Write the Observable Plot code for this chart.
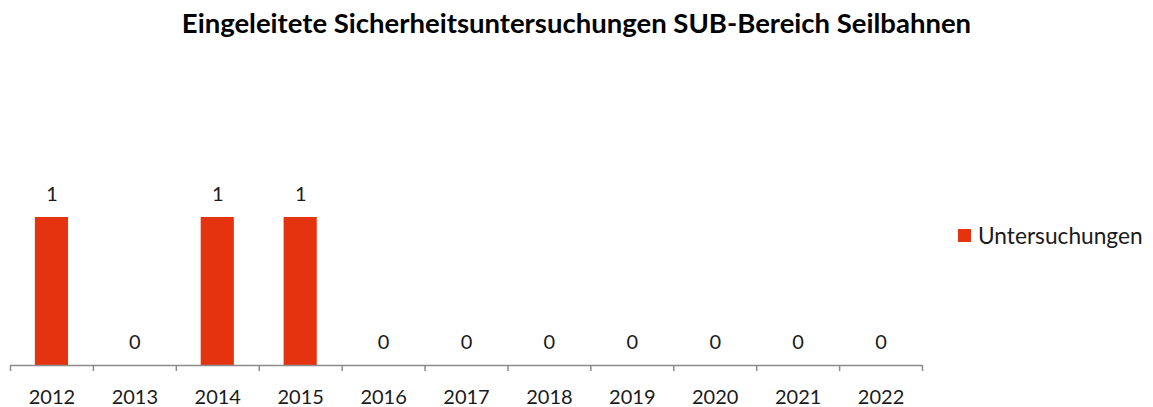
<!DOCTYPE html>
<html>
<head>
<meta charset="utf-8">
<script src="https://cdn.jsdelivr.net/npm/d3@7"></script>
<script src="https://cdn.jsdelivr.net/npm/@observablehq/plot@0.6"></script>
<style>
  html, body { margin: 0; padding: 0; background: #fff; }
  #wrap { position: relative; width: 1153px; height: 407px; font-family: Lato, "Open Sans", sans-serif; }
  #title { height: 45px; line-height: 45px; text-align: center; font-weight: bold; font-size: 27.5px; color: #000; padding-left: 0px; }
  #legend { position: absolute; left: 958px; top: 222px; font-size: 22.7px; color: #1a1a1a; display: flex; align-items: center; }
  #legend .sw { width: 13px; height: 13px; background: #E5330F; margin-right: 7px; }
</style>
</head>
<body>
<div id="wrap">
  <div id="title">Eingeleitete Sicherheitsuntersuchungen SUB-Bereich Seilbahnen</div>
  <div id="chart"></div>
  <div id="legend"><span class="sw"></span><span>Untersuchungen</span></div>
</div>
<script>
const years = ["2012","2013","2014","2015","2016","2017","2018","2019","2020","2021","2022"];
const values = [1, 0, 1, 1, 0, 0, 0, 0, 0, 0, 0];
const seriesName = "Untersuchungen";

const data = years.map((y, i) => ({year: y, value: values[i]}));

const W = 1153, H = 362;
const mL = 10, mR = 231, mT = 172, mB = 42;
const step = (W - mL - mR) / years.length;
const axisColor = "#8c8c8c";
const font = "Lato, 'Open Sans', sans-serif";

const chart = Plot.plot({
  width: W,
  height: H,
  marginLeft: mL,
  marginRight: mR,
  marginTop: mT,
  marginBottom: mB,
  style: {fontFamily: font, fontSize: "20px", color: "#1a1a1a", background: "#fff"},
  x: {domain: years, paddingInner: 0.6, paddingOuter: 0.3, round: false, label: null},
  y: {domain: [0, 1], axis: null},
  marks: [
    Plot.barY(data, {x: "year", y: "value", fill: "#E5330F"}),
    Plot.ruleY([0], {stroke: axisColor, strokeWidth: 1.5}),
    Plot.ruleX(years, {x: d => d, dx: -step / 2, stroke: axisColor, strokeWidth: 1.5, insetTop: H - mT - mB, insetBottom: -6}),
    Plot.ruleX([years[years.length - 1]], {x: d => d, dx: step / 2, stroke: axisColor, strokeWidth: 1.5, insetTop: H - mT - mB, insetBottom: -6}),
    Plot.text(data, {x: "year", y: "value", text: d => String(d.value), dy: -23, fontSize: 20, fill: "#1a1a1a"}),
    Plot.axisX({tickSize: 0, tickPadding: 24, fontSize: 20, label: null, fill: "#1a1a1a"})
  ]
});
document.getElementById("chart").appendChild(chart);
</script>
</body>
</html>
